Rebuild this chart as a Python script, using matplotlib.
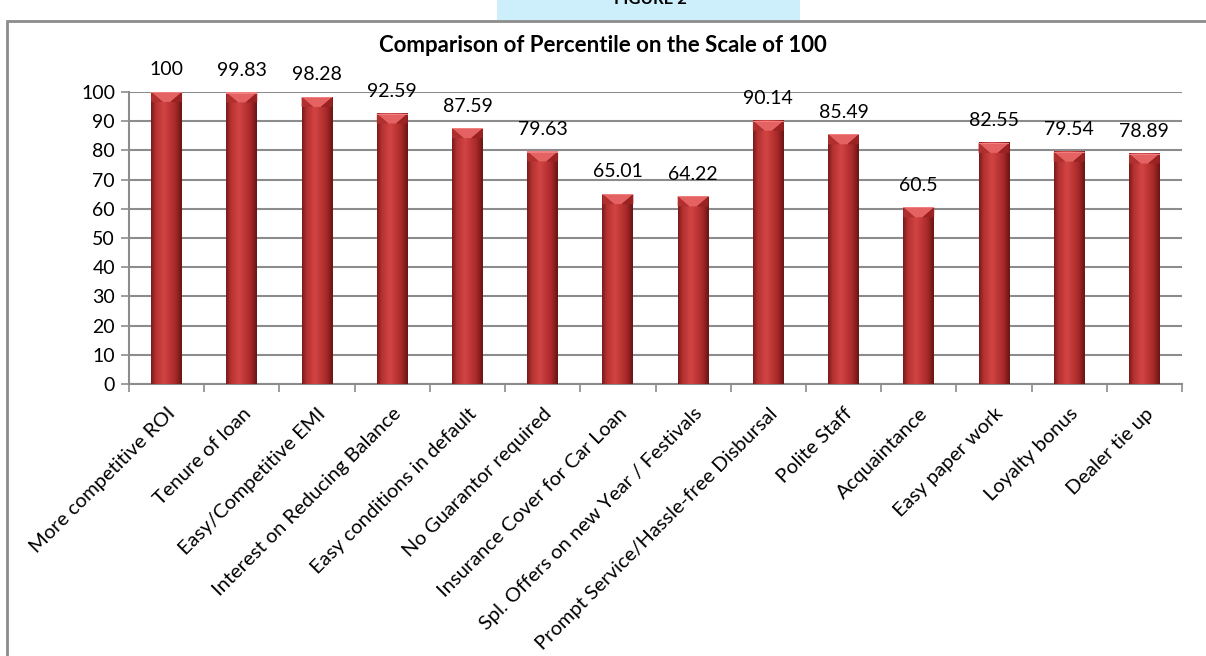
import numpy as np
import matplotlib.pyplot as plt
from matplotlib.colors import LinearSegmentedColormap
from matplotlib.patches import Rectangle, Polygon

# data
categories = [
    "More competitive ROI", "Tenure of loan", "Easy/Competitive EMI",
    "Interest on Reducing Balance", "Easy conditions in default",
    "No Guarantor required", "Insurance Cover for Car Loan",
    "Spl. Offers on new Year / Festivals",
    "Prompt Service/Hassle-free Disbursal", "Polite Staff",
    "Acquaintance", "Easy paper work", "Loyalty bonus", "Dealer tie up",
]
values = [100, 99.83, 98.28, 92.59, 87.59, 79.63, 65.01, 64.22,
          90.14, 85.49, 60.5, 82.55, 79.54, 78.89]
labels = ["100", "99.83", "98.28", "92.59", "87.59", "79.63", "65.01",
          "64.22", "90.14", "85.49", "60.5", "82.55", "79.54", "78.89"]
yticks = list(range(0, 101, 10))

plt.rcParams['font.family'] = ['Lato', 'DejaVu Sans']

W, H = 1206, 656
fig = plt.figure(figsize=(W / 100, H / 100), dpi=100)
ax = fig.add_axes([129 / W, 1 - 384 / H, (1182 - 129) / W, (384 - 92) / H])

# cylinder-like shading for bars
body = LinearSegmentedColormap.from_list(
    "body", [(0, "#7a1a1a"), (0.15, "#b53131"), (0.42, "#d24444"),
             (0.8, "#a82828"), (1, "#6a1515")])
grad = np.linspace(0, 1, 64).reshape(1, -1)

n = len(values)
bw = 0.41
x = np.arange(n)
for xi, v, lab in zip(x, values, labels):
    x0, x1 = xi - bw / 2, xi + bw / 2
    ax.imshow(grad, extent=(x0, x1, 0, v), aspect='auto', cmap=body,
              zorder=3, interpolation='bilinear')
    d = 3.4
    ax.add_patch(Polygon([(x0, v), (x1, v), (xi + bw * 0.12, v - d),
                          (xi - bw * 0.12, v - d)], closed=True,
                         facecolor="#e46262", edgecolor='none', zorder=4))
    ax.add_patch(Polygon([(x0, v), (xi - bw * 0.12, v - d), (x0, v - d)],
                         closed=True, facecolor="#b02f2f", edgecolor='none',
                         zorder=4))
    ax.add_patch(Polygon([(x1, v), (xi + bw * 0.12, v - d), (x1, v - d)],
                         closed=True, facecolor="#9a2222", edgecolor='none',
                         zorder=4))
    ax.add_patch(Rectangle((x0, v - 0.35), bw, 0.35, facecolor="#f08080",
                           edgecolor='none', zorder=4))
    ax.text(xi, v + 7.6, lab, ha='center', va='center', fontsize=14,
            color='black', zorder=5)

ax.set_xlim(-0.5, n - 0.5)
ax.set_ylim(0, 100)
ax.set_yticks(yticks)
ax.tick_params(axis='y', labelsize=14, length=6, width=1.2, color='#8c8c8c',
               pad=4)
ax.set_xticks(x)
ax.set_xticklabels(categories, rotation=45, ha='right',
                   rotation_mode='anchor', fontsize=14.5)
ax.tick_params(axis='x', which='major', length=0, pad=15)
ax.set_xticks(np.arange(n + 1) - 0.5, minor=True)
ax.tick_params(axis='x', which='minor', length=6, width=1.2,
               color='#8c8c8c', direction='out')

ax.grid(axis='y', color='#8c8c8c', linewidth=1.5, zorder=1)
ax.set_axisbelow(True)
for s in ['top', 'right']:
    ax.spines[s].set_visible(False)
for s in ['left', 'bottom']:
    ax.spines[s].set_color('#8c8c8c')
    ax.spines[s].set_linewidth(1.5)

fig.text(603 / W, 1 - 46 / H, "Comparison of Percentile on the Scale of 100",
         ha='center', va='center', fontsize=16, fontweight='bold')

# outer frame and the cut-off caption box above it
fig.add_artist(Rectangle((7 / W, -0.1), 1.2, 1.1 - 21 / H,
                         transform=fig.transFigure, facecolor='none',
                         edgecolor='#8c8c8c', linewidth=2))
fig.add_artist(Rectangle((497 / W, 1 - 20 / H), 303 / W, 0.05,
                         transform=fig.transFigure, facecolor='#cdeefb',
                         edgecolor='none'))
fig.text(650 / W, 1 - 4 / H, "FIGURE 2", ha='center', va='baseline',
         fontsize=12, fontweight='bold')

fig.savefig("out.png", dpi=100)
